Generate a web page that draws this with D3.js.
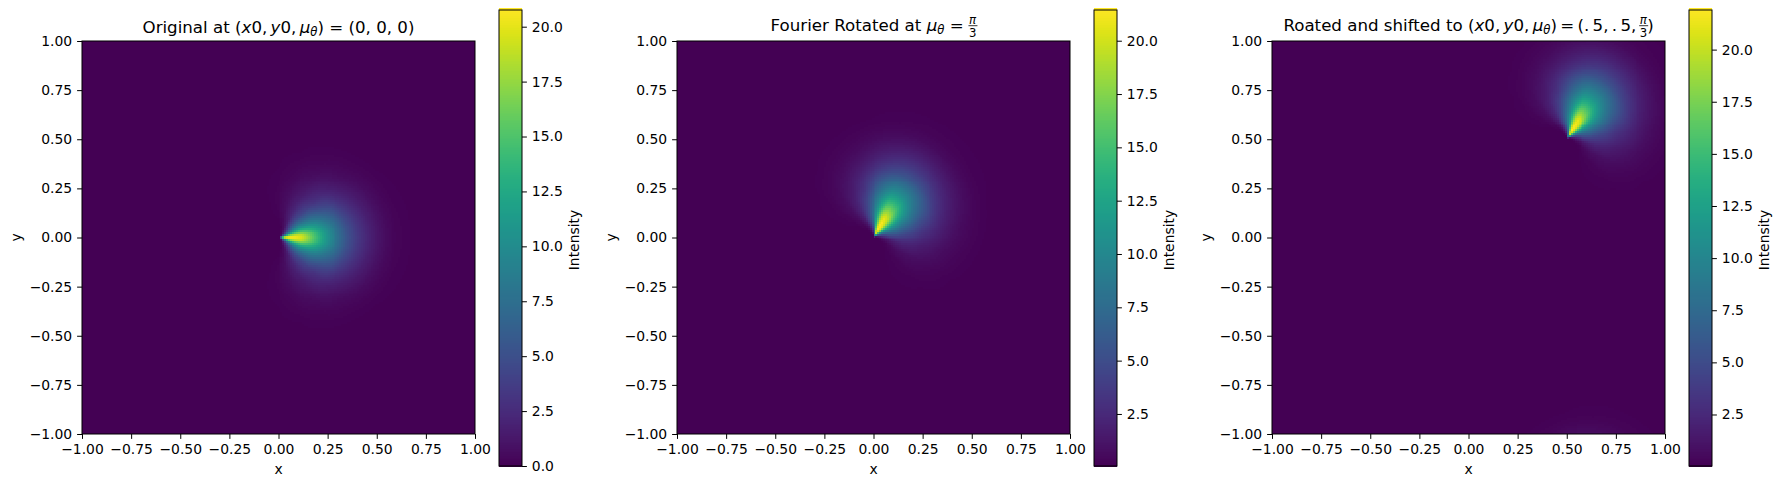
<!DOCTYPE html>
<html>
<head>
<meta charset="utf-8">
<script src="https://cdn.jsdelivr.net/npm/d3@7"></script>
<style>
  html, body { margin: 0; padding: 0; background: #fff; }
  svg { display: block; }
  text { font-family: "DejaVu Sans", sans-serif; fill: #000; }
  .tick text { font-size: 13.9px; }
  .tick line, .domain { stroke: #000; stroke-width: 1px; }
  rect.level { shape-rendering: crispEdges; }
</style>
</head>
<body>
<svg id="chart" width="1781" height="487"></svg>
<script>
// intensity, on rings (radius from the apex)
// and spokes (degrees away from the beam axis)
var radii = [0.005, 0.012, 0.02, 0.03, 0.05, 0.07, 0.09, 0.12, 0.15, 0.2, 0.25, 0.3, 0.35, 0.4, 0.45, 0.5, 0.55, 0.6, 0.7, 0.8];
var spokes = [0, 8, 15, 25, 35, 45, 60, 75, 90, 110, 130, 180];
var intensity = [
  [2,    1,    0.5,  0.2,  0.1,  0,    0,    0,    0,    0,    0,    0],
  [11,   9,    5,    1.5,  0.4,  0.1,  0,    0,    0,    0,    0,    0],
  [17,   15,   9,    3.5,  1.2,  0.4,  0.05, 0,    0,    0,    0,    0],
  [19.5, 17.5, 12.5, 6,    2.8,  1.2,  0.2,  0.03, 0,    0,    0,    0],
  [20.8, 19.5, 15.5, 8.5,  4.6,  2.4,  0.6,  0.1,  0.01, 0,    0,    0],
  [20.8, 19.7, 16,   10,   6,    3.5,  1,    0.2,  0.04, 0,    0,    0],
  [20.6, 19.4, 16,   10.8, 7,    4.5,  1.5,  0.4,  0.08, 0,    0,    0],
  [19.8, 18.6, 15.4, 10.8, 7.4,  4.8,  2,    0.65, 0.15, 0.02, 0,    0],
  [17.5, 16.6, 14,   10,   7,    4.5,  2.2,  0.8,  0.2,  0.03, 0,    0],
  [13.8, 13.3, 11.5, 8.8,  6.2,  4,    2,    0.8,  0.22, 0.03, 0,    0],
  [10.5, 10.2, 9,    7,    4.8,  3,    1.5,  0.65, 0.18, 0.03, 0,    0],
  [7.8,  7.6,  6.9,  5.4,  3.8,  2.4,  1.15, 0.45, 0.13, 0.02, 0,    0],
  [5.3,  5.1,  4.6,  3.6,  2.5,  1.65, 0.75, 0.3,  0.08, 0.01, 0,    0],
  [3.5,  3.35, 3,    2.3,  1.6,  1,    0.45, 0.17, 0.05, 0,    0,    0],
  [2.2,  2.1,  1.85, 1.4,  0.95, 0.55, 0.25, 0.08, 0.02, 0,    0,    0],
  [1.2,  1.15, 1,    0.75, 0.5,  0.28, 0.12, 0.04, 0,    0,    0,    0],
  [0.55, 0.52, 0.45, 0.33, 0.22, 0.12, 0.05, 0.01, 0,    0,    0,    0],
  [0.22, 0.21, 0.18, 0.13, 0.08, 0.04, 0.01, 0,    0,    0,    0,    0],
  [0.03, 0.03, 0.03, 0.02, 0.01, 0,    0,    0,    0,    0,    0,    0],
  [0,    0,    0,    0,    0,    0,    0,    0,    0,    0,    0,    0]
];

// one entry per panel
var panelX0 = [0, 0, 0.5];
var panelY0 = [0, 0, 0.5];
var panelAxisDeg = [0, 60, 60];
var panelSpreadCcw = [1, 1.1, 1.1]; // rotated beams are a bit lopsided
var panelSpreadCw = [1, 0.85, 0.85];
var panelMin = [0, 0.06, 0.03];
var panelMax = [20.76, 21.44, 21.9];
var colorTicks = [
  [0, 2.5, 5, 7.5, 10, 12.5, 15, 17.5, 20],
  [2.5, 5, 7.5, 10, 12.5, 15, 17.5, 20],
  [2.5, 5, 7.5, 10, 12.5, 15, 17.5, 20]
];
var axisTicks = [-1, -0.75, -0.5, -0.25, 0, 0.25, 0.5, 0.75, 1];
var titles = [
  [["Original at (", ""], ["x", "i"], ["0,\u2009", ""], ["y", "i"], ["0,\u2009", ""], ["μ", "i"], ["θ", "sub"], [") = (0, 0, 0)", ""]],
  [["Fourier Rotated at ", ""], ["μ", "i"], ["θ", "sub"], [" = ", ""], ["π", "num"], ["3", "den"]],
  [["Roated and shifted to (", ""], ["x", "i"], ["0,\u2009", ""], ["y", "i"], ["0,\u2009", ""], ["μ", "i"], ["θ", "sub"], [")\u2009=\u2009(.\u20095,\u2009.\u20095,\u2009", ""], ["π", "num"], ["3", "den"], [")", ""]]
];
var titleBaselines = [33, 31, 31];

var svg = d3.select("#chart");
var plotSize = 393, plotTop = 41;
var plotLefts = [82, 677, 1272];
var barGap = 24, barWidth = 23, barTop = 10, barBottom = 466;
var gridSize = 200; // the reference image has about 200 cells a side

var ringIndex = d3.scaleLinear().domain(radii).range(d3.range(radii.length)).clamp(true);
var spokeIndex = d3.scaleLinear().domain(spokes).range(d3.range(spokes.length)).clamp(true);

// bilinear lookup in the read table, same as imshow shading between samples
function lookup(dx, dy, i) {
  var r = Math.hypot(dx, dy);
  var deg = Math.atan2(dy, dx) * 180 / Math.PI - panelAxisDeg[i];
  if (deg > 180) deg -= 360;
  if (deg < -180) deg += 360;
  deg = deg > 0 ? deg * panelSpreadCcw[i] : -deg * panelSpreadCw[i];
  var ri = ringIndex(r), si = spokeIndex(deg);
  var r0 = Math.floor(ri), s0 = Math.floor(si);
  var r1 = Math.min(r0 + 1, radii.length - 1), s1 = Math.min(s0 + 1, spokes.length - 1);
  var fr = ri - r0, fs = si - s0;
  var a = intensity[r0][s0] * (1 - fs) + intensity[r0][s1] * fs;
  var b = intensity[r1][s0] * (1 - fs) + intensity[r1][s1] * fs;
  return a * (1 - fr) + b * fr;
}

function drawField(i, color) {
  var canvas = document.createElement("canvas");
  canvas.width = gridSize;
  canvas.height = gridSize;
  var ctx = canvas.getContext("2d");
  var peak = panelMax[i] / 20.8;
  for (var col = 0; col < gridSize; col++) {
    for (var row = 0; row < gridSize; row++) {
      var x = -1 + (col + 0.5) * 2 / gridSize;
      var y = 1 - (row + 0.5) * 2 / gridSize;
      // the shifted panel wraps round at the edges (it comes from an FFT)
      var v = lookup(x - panelX0[i], y - panelY0[i], i)
            + lookup(x - panelX0[i], y + 2 - panelY0[i], i);
      ctx.fillStyle = color(panelMin[i] + v * peak);
      ctx.fillRect(col, row, 1, 1);
    }
  }
  return canvas.toDataURL();
}

function drawTitle(i, cx) {
  var base = titleBaselines[i];
  var text = svg.append("text")
      .attr("x", cx)
      .attr("y", base)
      .attr("text-anchor", "middle")
      .style("font-size", "16.67px");
  var dy = 0, numNode = null, numWidth = 0;
  titles[i].forEach(function(part) {
    var span = text.append("tspan").text(part[0]);
    var kind = part[1];
    if (kind === "i") span.style("font-style", "italic");
    if (kind === "sub") {
      span.style("font-style", "italic").style("font-size", "11.7px").attr("dy", 3);
      dy = -3;
    } else if (kind === "num") {
      span.style("font-style", "italic").style("font-size", "11.7px").attr("dy", dy - 7.5);
      numNode = span.node();
      numWidth = numNode.getComputedTextLength();
      dy = 0;
    } else if (kind === "den") {
      span.style("font-size", "11.7px").attr("dy", 13.8).attr("dx", -numWidth);
      dy = -6.3;
    } else {
      if (dy) span.attr("dy", dy);
      dy = 0;
    }
  });
  // fraction bar under the pi
  if (numNode) {
    var box = numNode.getBoundingClientRect();
    svg.append("line")
        .attr("x1", box.left - 0.5)
        .attr("x2", box.right + 0.5)
        .attr("y1", base - 5.3)
        .attr("y2", base - 5.3)
        .attr("stroke", "#000")
        .attr("stroke-width", 0.8);
  }
}

plotLefts.forEach(function(left, i) {
  var g = svg.append("g").attr("transform", "translate(" + left + "," + plotTop + ")");

  var x = d3.scaleLinear().domain([-1, 1]).range([0, plotSize]);
  var y = d3.scaleLinear().domain([-1, 1]).range([plotSize, 0]);
  var color = d3.scaleSequential(d3.interpolateViridis).domain([panelMin[i], panelMax[i]]);

  g.append("image")
      .attr("href", drawField(i, color))
      .attr("width", plotSize)
      .attr("height", plotSize)
      .attr("preserveAspectRatio", "none")
      .style("image-rendering", "pixelated");

  g.append("g")
      .attr("transform", "translate(0," + plotSize + ")")
      .call(d3.axisBottom(x).tickValues(axisTicks).tickFormat(d3.format(".2f")).tickSizeOuter(0).tickSize(4.9).tickPadding(4.9))
      .call(function(a) { a.select(".domain").remove(); });
  g.append("g")
      .call(d3.axisLeft(y).tickValues(axisTicks).tickFormat(d3.format(".2f")).tickSizeOuter(0).tickSize(4.9).tickPadding(4.9))
      .call(function(a) { a.select(".domain").remove(); });

  g.append("rect")
      .attr("width", plotSize)
      .attr("height", plotSize)
      .attr("fill", "none")
      .attr("stroke", "#000")
      .attr("stroke-width", 1);

  g.append("text")
      .attr("x", plotSize / 2)
      .attr("y", plotSize + 40)
      .attr("text-anchor", "middle")
      .style("font-size", "13.9px")
      .text("x");
  g.append("text")
      .attr("transform", "translate(-61," + (plotSize / 2) + ") rotate(-90)")
      .attr("text-anchor", "middle")
      .style("font-size", "13.9px")
      .text("y");

  drawTitle(i, left + plotSize / 2);

  // colour bar
  var barLeft = left + plotSize + barGap;
  var c = svg.append("g").attr("transform", "translate(" + barLeft + ",0)");
  var barY = d3.scaleLinear().domain([panelMin[i], panelMax[i]]).range([barBottom, barTop]);
  var levels = d3.range(256).map(function(k) {
    return panelMin[i] + (panelMax[i] - panelMin[i]) * k / 255;
  });
  var levelH = (barBottom - barTop) / 256;
  c.selectAll("rect.level")
    .data(levels)
    .enter()
    .append("rect")
      .attr("class", "level")
      .attr("x", 0)
      .attr("width", barWidth)
      .attr("y", function(d) { return barY(d) - levelH; })
      .attr("height", levelH + 0.6)
      .attr("fill", function(d) { return color(d); });
  c.append("rect")
      .attr("y", barTop)
      .attr("width", barWidth)
      .attr("height", barBottom - barTop)
      .attr("fill", "none")
      .attr("stroke", "#000")
      .attr("stroke-width", 1);
  c.append("g")
      .attr("transform", "translate(" + barWidth + ",0)")
      .call(d3.axisRight(barY).tickValues(colorTicks[i]).tickFormat(d3.format(".1f")).tickSizeOuter(0).tickSize(4.9).tickPadding(4.9))
      .call(function(a) { a.select(".domain").remove(); });
  c.append("text")
      .attr("transform", "translate(80," + ((barTop + barBottom) / 2 + 2) + ") rotate(-90)")
      .attr("text-anchor", "middle")
      .style("font-size", "13.9px")
      .text("Intensity");
});
</script>
</body>
</html>
